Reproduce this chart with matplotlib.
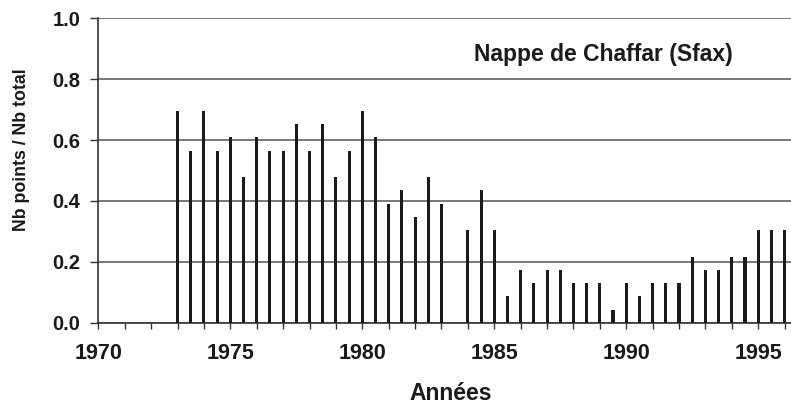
import matplotlib
matplotlib.use("Agg")
import matplotlib.pyplot as plt
from matplotlib.ticker import MultipleLocator

# Sampling dates (two campaigns a year) and ratio of points
years = [1973, 1973.5, 1974, 1974.5, 1975, 1975.5, 1976, 1976.5, 1977, 1977.5,
         1978, 1978.5, 1979, 1979.5, 1980, 1980.5, 1981, 1981.5, 1982, 1982.5,
         1983, 1984, 1984.5, 1985, 1985.5, 1986, 1986.5, 1987, 1987.5, 1988,
         1988.5, 1989, 1989.5, 1990, 1990.5, 1991, 1991.5, 1992, 1992.5, 1993,
         1993.5, 1994, 1994.5, 1995, 1995.5, 1996]
ratio = [0.696, 0.565, 0.696, 0.565, 0.609, 0.478, 0.609, 0.565, 0.565, 0.652,
         0.565, 0.652, 0.478, 0.565, 0.696, 0.609, 0.391, 0.435, 0.348, 0.478,
         0.391, 0.304, 0.435, 0.304, 0.087, 0.174, 0.130, 0.174, 0.174, 0.130,
         0.130, 0.130, 0.043, 0.130, 0.087, 0.130, 0.130, 0.130, 0.217, 0.174,
         0.174, 0.217, 0.217, 0.304, 0.304, 0.304]
yticks = [0.0, 0.2, 0.4, 0.6, 0.8, 1.0]
xticks = [1970, 1975, 1980, 1985, 1990, 1995]

plt.rcParams['font.family'] = ['Liberation Sans', 'DejaVu Sans']
plt.rcParams['font.weight'] = 'bold'

fig = plt.figure(figsize=(7.91, 4.07), dpi=100)
ax = fig.add_axes([0.1243, 0.2071, 0.8757, 0.7479])

ax.bar(years, ratio, width=0.12, color='#1a1a1a', zorder=3)

ax.set_xlim(1970, 1996.24)
ax.set_ylim(0, 1.0)
ax.set_yticks(yticks)
ax.set_yticklabels([f"{v:.1f}" for v in yticks])
ax.set_xticks(xticks)
ax.set_xticklabels([str(v) for v in xticks])
ax.xaxis.set_minor_locator(MultipleLocator(1))

ax.grid(axis='y', color='#555555', linewidth=1.1, zorder=0)
ax.set_axisbelow(True)
for side in ['top', 'right']:
    ax.spines[side].set_visible(False)
ax.spines['left'].set_color('#333333')
ax.spines['bottom'].set_color('#333333')
ax.spines['left'].set_linewidth(1.2)
ax.spines['bottom'].set_linewidth(1.2)

ax.tick_params(axis='y', direction='out', length=6, width=1, color='#333333',
               labelsize=14.5, pad=7)
ax.tick_params(axis='x', which='both', direction='out', length=4.5, width=1,
               color='#333333', labelsize=15.5, pad=10)
for lab in ax.get_xticklabels() + ax.get_yticklabels():
    lab.set_fontweight('bold')
    lab.set_color('#1a1a1a')

ax.set_xlabel('Années', fontsize=16.5, fontweight='bold', color='#1a1a1a', va='center')
ax.xaxis.set_label_coords(0.508, -0.234)
ax.set_ylabel('Nb points / Nb total', fontsize=12.8, fontweight='bold', color='#1a1a1a',
              va='center')
ax.yaxis.set_label_coords(-0.1116, 0.567)

ax.text(0.7286, 0.88, 'Nappe de Chaffar (Sfax)', transform=ax.transAxes,
        ha='center', va='center', fontsize=16.5, fontweight='bold', color='#1a1a1a')

fig.savefig('out.png', dpi=100)
